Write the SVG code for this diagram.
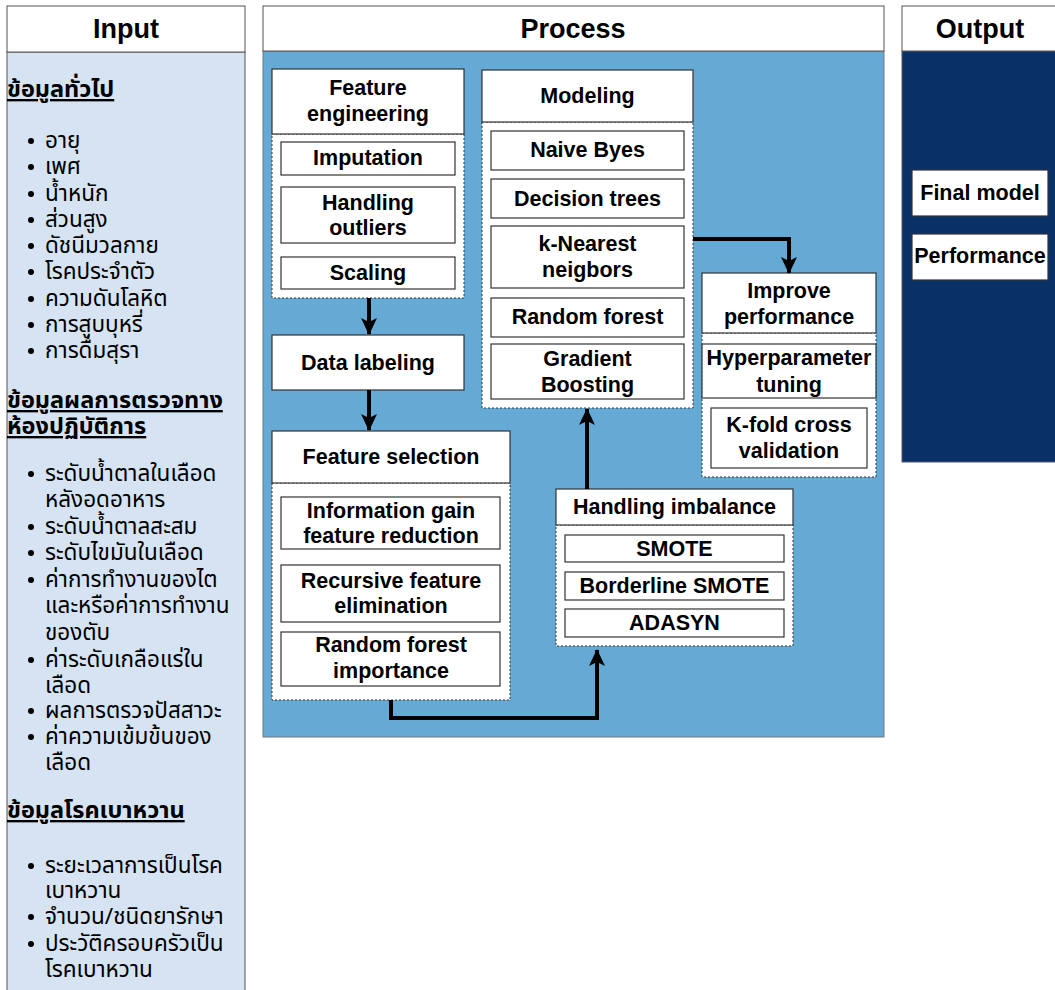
<svg xmlns="http://www.w3.org/2000/svg" width="1055" height="990" viewBox="0 0 1055 990">
<style>
.hdr{fill:#fff;stroke:#555;stroke-width:1}
.ttl{font-family:"Liberation Sans",Arial,sans-serif;font-weight:bold;font-size:27px;fill:#000;text-anchor:middle}
.box{fill:#fff;stroke:#333;stroke-width:1.2}
.cont{fill:#fff;stroke:#333;stroke-width:1;stroke-dasharray:2 2}
.bt{font-family:"Liberation Sans",Arial,sans-serif;font-weight:bold;font-size:21.5px;fill:#000;text-anchor:middle}
.th{font-family:"Noto Sans Thai","Tahoma","Loma","Garuda","Liberation Sans",sans-serif;font-size:22.5px;fill:#000}
.thh{font-family:"Noto Sans Thai","Tahoma","Loma","Garuda","Liberation Sans",sans-serif;font-size:23.5px;font-weight:bold;fill:#000;text-decoration:underline}
.conn{fill:none;stroke:#000;stroke-width:4}
</style>
<defs>
<marker id="ah" markerUnits="userSpaceOnUse" markerWidth="18" markerHeight="18" viewBox="0 0 18 18" refX="16" refY="9" orient="auto">
<path d="M0,1 L17,9 L0,17 L4,9 Z" fill="#000"/>
</marker>
</defs>
<rect width="1055" height="990" fill="#fff"/>

<g id="input">
<rect x="7" y="52" width="238" height="940" fill="#d5e3f3" stroke="#555" stroke-width="1"/>
<rect class="hdr" x="7" y="6" width="238" height="46"/>
<text class="ttl" x="126" y="38">Input</text>
<g fill="#000">
<circle cx="31" cy="141" r="3"/><circle cx="31" cy="167" r="3"/><circle cx="31" cy="194" r="3"/><circle cx="31" cy="220" r="3"/><circle cx="31" cy="246" r="3"/><circle cx="31" cy="272" r="3"/><circle cx="31" cy="299" r="3"/><circle cx="31" cy="325" r="3"/><circle cx="31" cy="351" r="3"/>
<circle cx="31" cy="474" r="3"/><circle cx="31" cy="527" r="3"/><circle cx="31" cy="553" r="3"/><circle cx="31" cy="580" r="3"/><circle cx="31" cy="660" r="3"/><circle cx="31" cy="711" r="3"/><circle cx="31" cy="737" r="3"/>
<circle cx="31" cy="866" r="3"/><circle cx="31" cy="917" r="3"/><circle cx="31" cy="944" r="3"/>
</g>
<text class="thh" x="7" y="97">ข้อมูลทั่วไป</text>
<text class="th"><tspan x="45" y="148">อายุ</tspan><tspan x="45" y="174">เพศ</tspan><tspan x="45" y="201">น้ำหนัก</tspan><tspan x="45" y="227">ส่วนสูง</tspan><tspan x="45" y="253">ดัชนีมวลกาย</tspan><tspan x="45" y="279">โรคประจำตัว</tspan><tspan x="45" y="306">ความดันโลหิต</tspan><tspan x="45" y="332">การสูบบุหรี่</tspan><tspan x="45" y="358">การดื่มสุรา</tspan></text>
<text class="thh"><tspan x="7" y="408">ข้อมูลผลการตรวจทาง</tspan><tspan x="7" y="434">ห้องปฏิบัติการ</tspan></text>
<text class="th"><tspan x="45" y="481">ระดับน้ำตาลในเลือด</tspan><tspan x="45" y="507">หลังอดอาหาร</tspan><tspan x="45" y="534">ระดับน้ำตาลสะสม</tspan><tspan x="45" y="560">ระดับไขมันในเลือด</tspan><tspan x="45" y="587">ค่าการทำงานของไต</tspan><tspan x="45" y="613">และหรือค่าการทำงาน</tspan><tspan x="45" y="640">ของตับ</tspan><tspan x="45" y="667">ค่าระดับเกลือแร่ใน</tspan><tspan x="45" y="693">เลือด</tspan><tspan x="45" y="718">ผลการตรวจปัสสาวะ</tspan><tspan x="45" y="744">ค่าความเข้มข้นของ</tspan><tspan x="45" y="770">เลือด</tspan></text>
<text class="thh" x="7" y="818">ข้อมูลโรคเบาหวาน</text>
<text class="th"><tspan x="45" y="873">ระยะเวลาการเป็นโรค</tspan><tspan x="45" y="898">เบาหวาน</tspan><tspan x="45" y="924">จำนวน/ชนิดยารักษา</tspan><tspan x="45" y="951">ประวัติครอบครัวเป็น</tspan><tspan x="45" y="977">โรคเบาหวาน</tspan></text>
</g>

<g id="process">
<rect x="263" y="51" width="621" height="686" fill="#65a9d5" stroke="#777" stroke-width="1"/>
<rect class="hdr" x="263" y="6" width="621" height="45"/>
<text class="ttl" x="573" y="38">Process</text>
</g>

<g id="output">
<rect x="902" y="51" width="160" height="411" fill="#0a3068" stroke="#556" stroke-width="1"/>
<rect class="hdr" x="902" y="6" width="160" height="45"/>
<text class="ttl" x="980" y="38">Output</text>
</g>

<g id="feature-engineering">
<rect class="cont" x="272" y="134" width="192" height="164"/>
<rect class="box" x="272" y="69" width="192" height="65"/>
<text class="bt" x="368" y="95">Feature</text>
<text class="bt" x="368" y="121">engineering</text>
<rect class="box" x="281" y="142" width="174" height="33"/>
<text class="bt" x="368" y="165">Imputation</text>
<rect class="box" x="281" y="187" width="174" height="56"/>
<text class="bt" x="368" y="210">Handling</text>
<text class="bt" x="368" y="235">outliers</text>
<rect class="box" x="281" y="257" width="174" height="32"/>
<text class="bt" x="368" y="280">Scaling</text>
</g>

<g id="data-labeling">
<rect class="box" x="272" y="335" width="192" height="55"/>
<text class="bt" x="368" y="370">Data labeling</text>
</g>

<g id="feature-selection">
<rect class="cont" x="272" y="483" width="238" height="217"/>
<rect class="box" x="272" y="431" width="238" height="52"/>
<text class="bt" x="391" y="464">Feature selection</text>
<rect class="box" x="281" y="497" width="219" height="52"/>
<text class="bt" x="391" y="518">Information gain</text>
<text class="bt" x="391" y="543">feature reduction</text>
<rect class="box" x="281" y="565" width="219" height="57"/>
<text class="bt" x="391" y="588">Recursive feature</text>
<text class="bt" x="391" y="613">elimination</text>
<rect class="box" x="281" y="632" width="219" height="54"/>
<text class="bt" x="391" y="652">Random forest</text>
<text class="bt" x="391" y="678">importance</text>
</g>

<g id="handling-imbalance">
<rect class="cont" x="556" y="525" width="237" height="121"/>
<rect class="box" x="556" y="489" width="237" height="36"/>
<text class="bt" x="674.5" y="514">Handling imbalance</text>
<rect class="box" x="565" y="535" width="219" height="27"/>
<text class="bt" x="674.5" y="556">SMOTE</text>
<rect class="box" x="565" y="572" width="219" height="28"/>
<text class="bt" x="674.5" y="593">Borderline SMOTE</text>
<rect class="box" x="565" y="609" width="219" height="28"/>
<text class="bt" x="674.5" y="630">ADASYN</text>
</g>

<g id="modeling">
<rect class="cont" x="482" y="122" width="211" height="286"/>
<rect class="box" x="482" y="70" width="211" height="52"/>
<text class="bt" x="587.5" y="103">Modeling</text>
<rect class="box" x="491" y="131" width="193" height="39"/>
<text class="bt" x="587.5" y="157">Naive Byes</text>
<rect class="box" x="491" y="179" width="193" height="39"/>
<text class="bt" x="587.5" y="206">Decision trees</text>
<rect class="box" x="491" y="226" width="193" height="62"/>
<text class="bt" x="587.5" y="251">k-Nearest</text>
<text class="bt" x="587.5" y="277">neigbors</text>
<rect class="box" x="491" y="298" width="193" height="39"/>
<text class="bt" x="587.5" y="324">Random forest</text>
<rect class="box" x="491" y="344" width="193" height="55"/>
<text class="bt" x="587.5" y="366">Gradient</text>
<text class="bt" x="587.5" y="392">Boosting</text>
</g>

<g id="improve-performance">
<rect class="cont" x="702" y="333" width="174" height="144"/>
<rect class="box" x="702" y="273" width="174" height="60"/>
<text class="bt" x="789" y="298">Improve</text>
<text class="bt" x="789" y="324">performance</text>
<rect class="box" x="702" y="344" width="174" height="54"/>
<text class="bt" x="789" y="365">Hyperparameter</text>
<text class="bt" x="789" y="392">tuning</text>
<rect class="box" x="711" y="408" width="156" height="60"/>
<text class="bt" x="789" y="432">K-fold cross</text>
<text class="bt" x="789" y="458">validation</text>
</g>

<g id="final-model">
<rect class="box" x="912" y="170" width="136" height="46"/>
<text class="bt" x="980" y="200">Final model</text>
</g>
<g id="performance">
<rect class="box" x="912" y="234" width="136" height="46"/>
<text class="bt" x="980" y="263">Performance</text>
</g>

<g id="connectors">
<path class="conn" d="M369,298 V334" marker-end="url(#ah)"/>
<path class="conn" d="M369,390 V430" marker-end="url(#ah)"/>
<path class="conn" d="M391,700 V718 H597 V650" marker-end="url(#ah)"/>
<path class="conn" d="M587,489 V409" marker-end="url(#ah)"/>
<path class="conn" d="M693,239 H789 V273" marker-end="url(#ah)"/>
</g>
</svg>
